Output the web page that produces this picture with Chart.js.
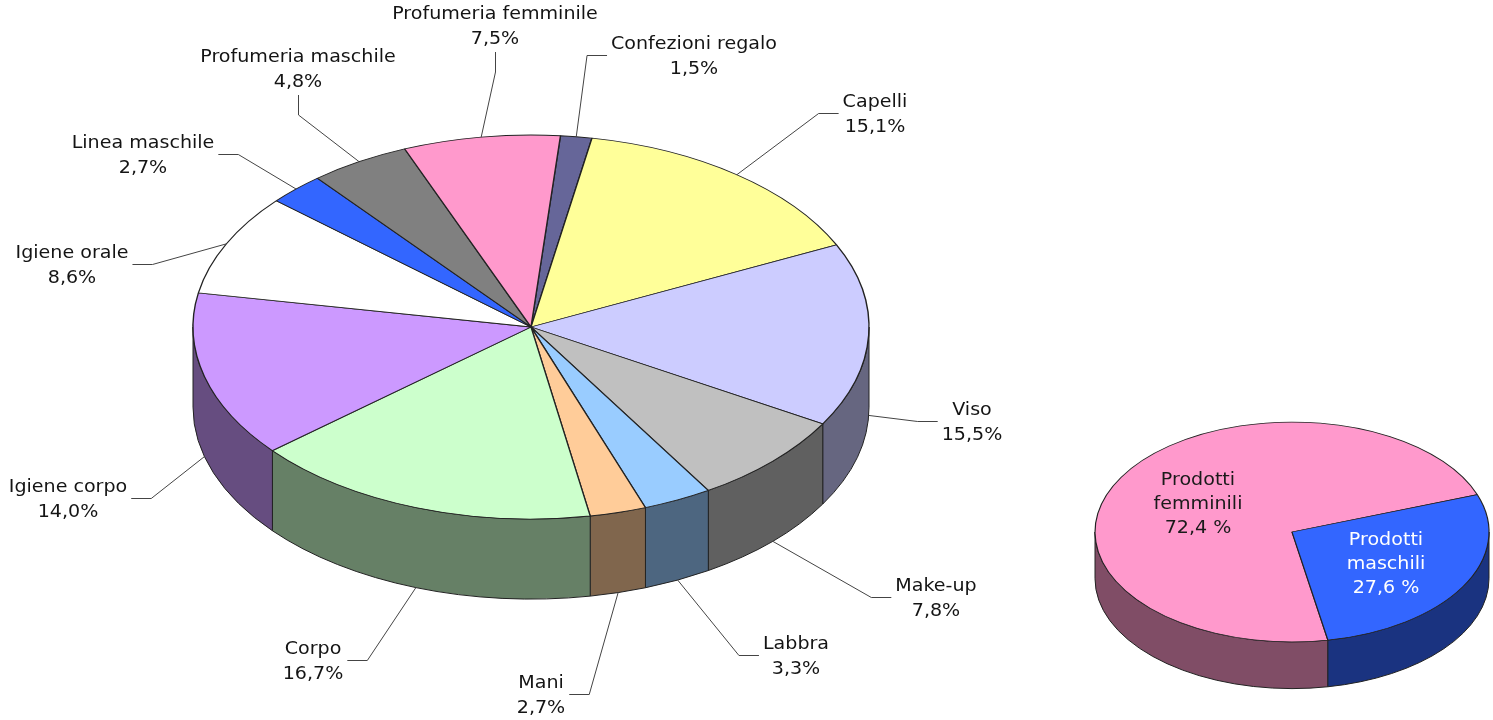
<!DOCTYPE html>
<html><head><meta charset="utf-8">
<script src="https://cdn.jsdelivr.net/npm/chart.js@4.4.0/dist/chart.umd.min.js"></script>
<style>
html,body{margin:0;padding:0;background:#fff;overflow:hidden;}
#wrap{position:relative;width:1493px;height:720px;}
canvas{position:absolute;left:0;top:0;}
</style></head><body>
<div id="wrap"><canvas id="big" width="1493" height="720"></canvas><canvas id="small" width="1493" height="720"></canvas></div>
<script>
// ---- data ----
const categories = ['Confezioni regalo','Capelli','Viso','Make-up','Labbra','Mani','Corpo','Igiene corpo','Igiene orale','Linea maschile','Profumeria maschile','Profumeria femminile'];
const shares = [1.5,15.1,15.5,7.8,3.3,2.7,16.7,14.0,8.6,2.7,4.8,7.5];
const sliceColors = ['#666699','#FFFF99','#CCCCFF','#C0C0C0','#99CCFF','#FFCC99','#CCFFCC','#CC99FF','#FFFFFF','#3366FF','#808080','#FF99CC'];

const groupCategories = ['Prodotti femminili','Prodotti maschili'];
const groupShares = [72.4,27.6];
const groupColors = ['#FF99CC','#3366FF'];
const groupTextColors = ['#1a1a1a','#ffffff'];

// label layout: centre of each two-line label block (annotation placement)
const labelBlocks = [[694,55],[875,113],[972,421],[936,597],[796,655],[541,694],[313,660],[68,498],[72,264],[143,154],[298,68],[495,25]];

const FONT = 'DejaVu Sans, Verdana, sans-serif';
const fmt = v => v.toFixed(1).replace('.', ',');

function darken(hex, f){
  const n = parseInt(hex.slice(1),16);
  const r=(n>>16)&255, g=(n>>8)&255, b=n&255;
  return 'rgb('+Math.round(r*f)+','+Math.round(g*f)+','+Math.round(b*f)+')';
}

function geom(chart){
  const arcs = chart.getDatasetMeta(0).data;
  const p = chart.options.plugins.pie3d;
  const a0 = arcs[0];
  return {arcs, cx:a0.x, cy:a0.y, R:a0.outerRadius, k:p.tilt, D:a0.outerRadius*p.depth};
}

const pie3d = {
  id:'pie3d',
  beforeDatasetsDraw(chart, args, opts){
    const ctx = chart.ctx;
    const g = geom(chart);
    const colors = chart.data.datasets[0].backgroundColor;
    ctx.save();
    ctx.lineWidth = opts.edgeWidth; ctx.strokeStyle = opts.edgeColor; ctx.lineJoin = 'round';
    g.arcs.forEach((arc,i)=>{
      for(let n=-1;n<=1;n++){
        const lo = Math.max(arc.startAngle, n*2*Math.PI);
        const hi = Math.min(arc.endAngle, n*2*Math.PI+Math.PI);
        if(hi-lo > 1e-6){
          ctx.beginPath();
          ctx.ellipse(g.cx, g.cy, g.R, g.R*g.k, 0, lo, hi, false);
          ctx.lineTo(g.cx+g.R*Math.cos(hi), g.cy+g.R*g.k*Math.sin(hi)+g.D);
          ctx.ellipse(g.cx, g.cy+g.D, g.R, g.R*g.k, 0, hi, lo, true);
          ctx.closePath();
          ctx.fillStyle = darken(colors[i], 0.5);
          ctx.fill(); ctx.stroke();
        }
      }
    });
    ctx.restore();
    ctx.save();
    ctx.translate(0, g.cy); ctx.scale(1, g.k); ctx.translate(0, -g.cy);
    chart.$tilted = true;
  },
  afterDatasetsDraw(chart){
    if(chart.$tilted){ chart.ctx.restore(); chart.$tilted = false; }
  }
};

function drawText(ctx, t, x, y, sx){
  ctx.save(); ctx.translate(x, y); ctx.scale(sx, 1); ctx.fillText(t, 0, 0); ctx.restore();
}

const outerLabels = {
  id:'outerLabels',
  afterDraw(chart, args, opts){
    if(!opts.positions) return;
    const ctx = chart.ctx; const g = geom(chart);
    const ds = chart.data.datasets[0];
    ctx.save();
    ctx.font = opts.fontSize+'px '+FONT;
    ctx.textAlign = 'center'; ctx.textBaseline = 'alphabetic';
    const capHalf = 0.365*opts.fontSize;
    g.arcs.forEach((arc,i)=>{
      const mid = (arc.startAngle+arc.endAngle)/2;
      const m = ((mid%(2*Math.PI))+2*Math.PI)%(2*Math.PI);
      const front = m>0 && m<Math.PI;
      const ax = g.cx+g.R*Math.cos(mid), ay = g.cy+g.R*g.k*Math.sin(mid)+(front?g.D:0);
      const lx = opts.positions[i][0], ly = opts.positions[i][1];
      const lines = [chart.data.labels[i], fmt(ds.data[i])+'%'];
      const w = Math.max(...lines.map(t=>ctx.measureText(t).width))*opts.stretch;
      ctx.beginPath(); ctx.strokeStyle = opts.lineColor; ctx.lineWidth = 1;
      if(ax > lx-w/2 && ax < lx+w/2){
        const x0 = Math.round(lx)+0.5;
        ctx.moveTo(x0, ly+27); ctx.lineTo(x0, ly+47); ctx.lineTo(ax, ay);
      } else {
        const dir = ax < lx ? -1 : 1;
        const x0 = lx + dir*(w/2+4), x1 = x0 + dir*20, y0 = Math.round(ly)+0.5;
        ctx.moveTo(x0, y0); ctx.lineTo(x1, y0); ctx.lineTo(ax, ay);
      }
      ctx.stroke();
      ctx.fillStyle = opts.color;
      lines.forEach((t,j)=> drawText(ctx, t, lx, ly+(j-0.5)*opts.spacing+capHalf, opts.stretch));
    });
    ctx.restore();
  }
};

const innerLabels = {
  id:'innerLabels',
  afterDraw(chart, args, opts){
    if(!opts.colors) return;
    const ctx = chart.ctx; const g = geom(chart);
    const ds = chart.data.datasets[0];
    ctx.save();
    ctx.font = opts.fontSize+'px '+FONT;
    ctx.textAlign = 'center';
    const capHalf = 0.365*opts.fontSize;
    g.arcs.forEach((arc,i)=>{
      const mid = (arc.startAngle+arc.endAngle)/2;
      const lx = g.cx+g.R*opts.fraction*Math.cos(mid), ly = g.cy+g.R*g.k*opts.fraction*Math.sin(mid);
      const lines = chart.data.labels[i].split(' ').concat([fmt(ds.data[i])+' %']);
      ctx.fillStyle = opts.colors[i];
      lines.forEach((t,j)=> drawText(ctx, t, lx, ly+(j-(lines.length-1)/2)*opts.spacing+capHalf, opts.stretch));
    });
    ctx.restore();
  }
};

const common = {
  responsive:false, animation:false, events:[],
  plugins:{legend:{display:false}, tooltip:{enabled:false}}
};

new Chart(document.getElementById('big'), {
  type:'pie',
  data:{labels:categories, datasets:[{data:shares, backgroundColor:sliceColors, borderColor:'#222', borderWidth:1.4, rotation:5, radius:338, clip:false}]},
  options:Object.assign({}, common, {
    layout:{padding:{left:0,right:431,top:0,bottom:66}},
    plugins:{legend:{display:false}, tooltip:{enabled:false},
      pie3d:{tilt:0.568, depth:0.237, edgeColor:'#222', edgeWidth:1},
      outerLabels:{positions:labelBlocks, fontSize:18, stretch:1.06, spacing:25, color:'#141414', lineColor:'#444'}}
  }),
  plugins:[pie3d, outerLabels]
});

new Chart(document.getElementById('small'), {
  type:'pie',
  data:{labels:groupCategories, datasets:[{data:groupShares, backgroundColor:groupColors, borderColor:'#222', borderWidth:1.2, rotation:169.5, radius:197, clip:false}]},
  options:Object.assign({}, common, {
    layout:{padding:{left:1091,right:0,top:344,bottom:0}},
    plugins:{legend:{display:false}, tooltip:{enabled:false},
      pie3d:{tilt:0.558, depth:0.237, edgeColor:'#222', edgeWidth:1},
      innerLabels:{colors:groupTextColors, fontSize:18, stretch:1.06, spacing:24, fraction:0.55}}
  }),
  plugins:[pie3d, innerLabels]
});
</script>
</body></html>
